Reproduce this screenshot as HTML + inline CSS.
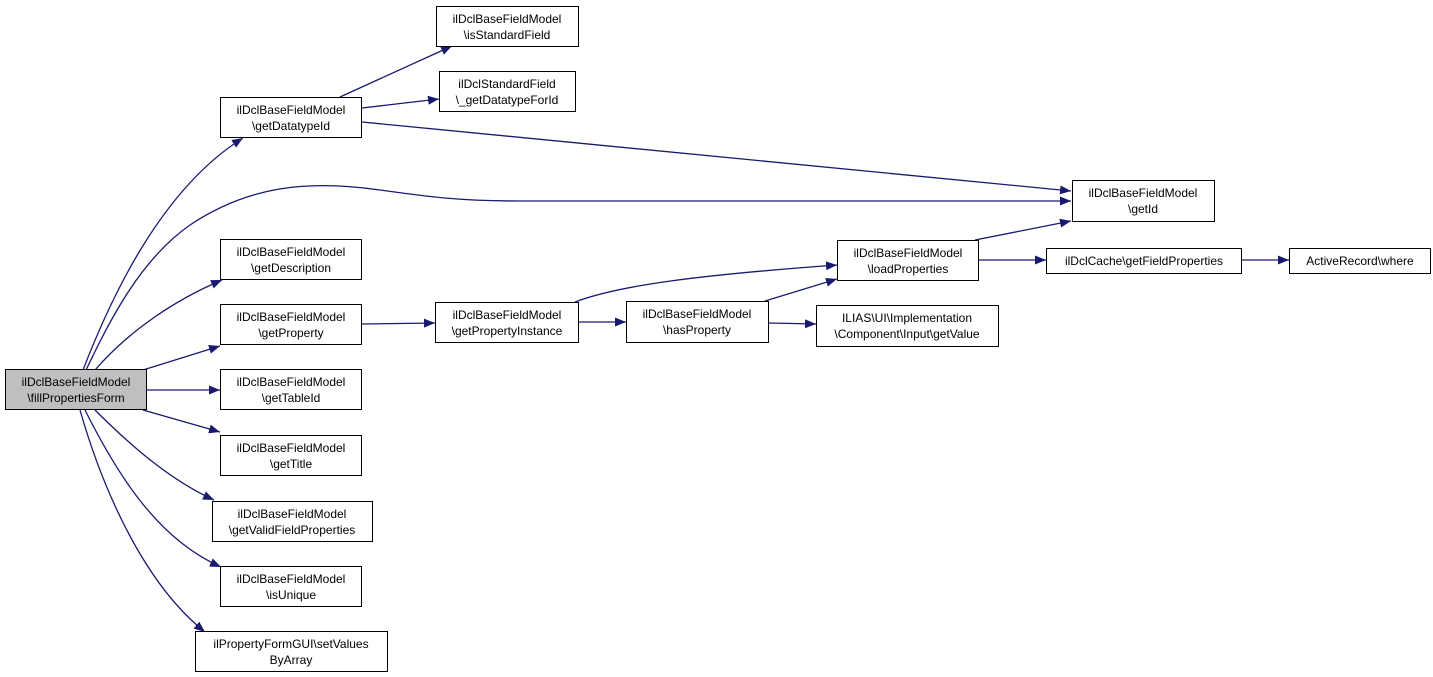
<!DOCTYPE html>
<html><head><meta charset="utf-8"><style>
html,body{margin:0;padding:0;background:#fff;width:1433px;height:677px;overflow:hidden}
svg text{font-family:"Liberation Sans",sans-serif;font-size:12px;fill:#000}
</style></head><body>
<svg width="1433" height="677" viewBox="0 0 1433 677" xmlns="http://www.w3.org/2000/svg">
<defs><marker id="a" markerWidth="11" markerHeight="9" refX="11" refY="4.5" orient="auto" markerUnits="userSpaceOnUse"><path d="M0,0 L11,4.5 L0,9 Z" fill="#191970"/></marker></defs>
<g fill="none" stroke="#191970" stroke-width="1.3" marker-end="url(#a)">
<path d="M83,370 C110,300 160,190 243,138"/>
<path d="M86,370 C110,320 140,260 190,225 C250,185 310,180 380,190 C430,197 460,201 520,201 L1071,201"/>
<path d="M95,370 C130,330 175,300 222,280"/>
<path d="M143,370 L220,346"/>
<path d="M147,390 L220,390"/>
<path d="M143,410 L220,432"/>
<path d="M95,410 C130,445 170,480 214,500"/>
<path d="M85,410 C120,480 160,540 221,567"/>
<path d="M80,410 C100,480 140,580 205,632"/>
<path d="M340,97 L452,46"/>
<path d="M362,108 L439,99"/>
<path d="M362,122 L1071,191"/>
<path d="M362,324 L435,323"/>
<path d="M575,302 C620,285 700,275 837,265"/>
<path d="M578,322 L626,322"/>
<path d="M765,301 L837,279"/>
<path d="M769,323 L816,324"/>
<path d="M975,240 L1071,221"/>
<path d="M979,260 L1046,260"/>
<path d="M1242,260 L1289,260"/>
</g>
<g stroke="#000" stroke-width="1">
<rect x="5.5" y="369.5" width="141" height="40" fill="#bfbfbf"/>
<g fill="#fff">
<rect x="220.5" y="97.5" width="141" height="40"/>
<rect x="436.5" y="6.5" width="142" height="40"/>
<rect x="439.5" y="71.5" width="136" height="40"/>
<rect x="220.5" y="239.5" width="141" height="40"/>
<rect x="220.5" y="304.5" width="141" height="40"/>
<rect x="435.5" y="302.5" width="143" height="40"/>
<rect x="220.5" y="369.5" width="141" height="40"/>
<rect x="220.5" y="435.5" width="141" height="40"/>
<rect x="212.5" y="501.5" width="160" height="40"/>
<rect x="220.5" y="566.5" width="141" height="40"/>
<rect x="195.5" y="631.5" width="192" height="40"/>
<rect x="1072.5" y="180.5" width="142" height="41"/>
<rect x="837.5" y="240.5" width="141" height="40"/>
<rect x="1046.5" y="248.5" width="195" height="25"/>
<rect x="1289.5" y="248.5" width="141" height="25"/>
<rect x="626.5" y="301.5" width="142" height="41"/>
<rect x="816.5" y="305.5" width="182" height="41"/>
</g></g>
<g text-anchor="middle">
<text x="76" y="386">ilDclBaseFieldModel</text><text x="76" y="402">\fillPropertiesForm</text>
<text x="291" y="114">ilDclBaseFieldModel</text><text x="291" y="130">\getDatatypeId</text>
<text x="507" y="23">ilDclBaseFieldModel</text><text x="507" y="39">\isStandardField</text>
<text x="507" y="88">ilDclStandardField</text><text x="507" y="104">\_getDatatypeForId</text>
<text x="291" y="256">ilDclBaseFieldModel</text><text x="291" y="272">\getDescription</text>
<text x="291" y="321">ilDclBaseFieldModel</text><text x="291" y="337">\getProperty</text>
<text x="507" y="319">ilDclBaseFieldModel</text><text x="507" y="335">\getPropertyInstance</text>
<text x="291" y="386">ilDclBaseFieldModel</text><text x="291" y="402">\getTableId</text>
<text x="291" y="452">ilDclBaseFieldModel</text><text x="291" y="468">\getTitle</text>
<text x="292" y="518">ilDclBaseFieldModel</text><text x="292" y="534">\getValidFieldProperties</text>
<text x="291" y="583">ilDclBaseFieldModel</text><text x="291" y="599">\isUnique</text>
<text x="291" y="648">ilPropertyFormGUI\setValues</text><text x="291" y="664">ByArray</text>
<text x="1143" y="197">ilDclBaseFieldModel</text><text x="1143" y="213">\getId</text>
<text x="908" y="257">ilDclBaseFieldModel</text><text x="908" y="273">\loadProperties</text>
<text x="1144" y="265">ilDclCache\getFieldProperties</text>
<text x="1360" y="265">ActiveRecord\where</text>
<text x="697" y="318">ilDclBaseFieldModel</text><text x="697" y="334">\hasProperty</text>
<text x="907" y="322">ILIAS\UI\Implementation</text><text x="907" y="338">\Component\Input\getValue</text>
</g>
</svg>
</body></html>
